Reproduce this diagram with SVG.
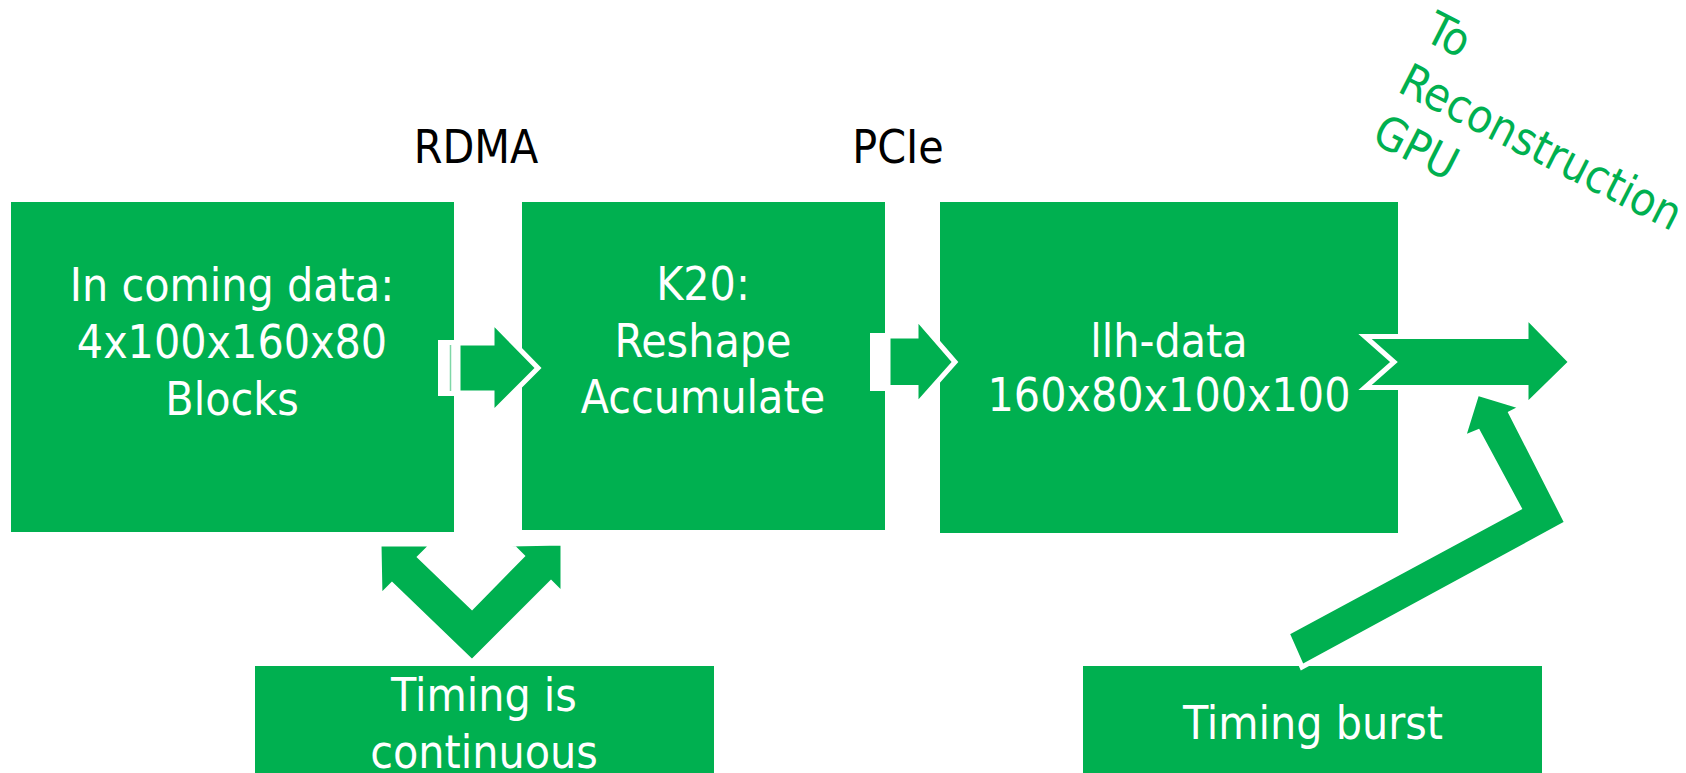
<svg xmlns="http://www.w3.org/2000/svg" width="1686" height="773" viewBox="0 0 1686 773">
  <style>
    .box { fill: #00B050; }
    .arr { fill: #00B050; stroke: #FFFFFF; stroke-width: 5; stroke-linejoin: miter; stroke-miterlimit: 10; }
    .t { font-family: "DejaVu Sans Condensed", "DejaVu Sans", "Liberation Sans", sans-serif; font-stretch: condensed; font-size: 46px; text-anchor: middle; }
    .w { fill: #FFFFFF; }
    .k { fill: #000000; }
    .g { fill: #00B050; text-anchor: start; }
  </style>
  <rect x="0" y="0" width="1686" height="773" fill="#FFFFFF"/>

  <g id="node-incoming">
    <rect class="box" x="11" y="202" width="443" height="330"/>
    <text class="t w" x="232" y="301">In coming data:</text>
    <text class="t w" x="232" y="358">4x100x160x80</text>
    <text class="t w" x="232" y="415">Blocks</text>
  </g>

  <g id="node-k20">
    <rect class="box" x="522" y="202" width="363" height="328"/>
    <text class="t w" x="703" y="300">K20:</text>
    <text class="t w" x="703" y="357">Reshape</text>
    <text class="t w" x="703" y="413">Accumulate</text>
  </g>

  <g id="node-llh">
    <rect class="box" x="940" y="202" width="458" height="331"/>
    <text class="t w" x="1169" y="357">llh-data</text>
    <text class="t w" x="1169" y="411">160x80x100x100</text>
  </g>

  <g id="node-timing-continuous">
    <rect class="box" x="255" y="666" width="459" height="107"/>
    <text class="t w" x="484" y="711">Timing is</text>
    <text class="t w" x="484" y="768">continuous</text>
  </g>

  <g id="node-timing-burst">
    <rect class="box" x="1083" y="666" width="459" height="107"/>
    <text class="t w" x="1313" y="739">Timing burst</text>
  </g>

  <g id="label-rdma">
    <text class="t k" x="476" y="163">RDMA</text>
  </g>
  <g id="label-pcie">
    <text class="t k" x="898" y="163">PCIe</text>
  </g>
  <g id="label-reconstruction">
    <g transform="translate(1396,91) rotate(27)">
      <text class="t g" x="0" y="-58">To</text>
      <text class="t g" x="0" y="0">Reconstruction</text>
      <text class="t g" x="0" y="57">GPU</text>
    </g>
  </g>

  <g id="connectors">
    <!-- RDMA striped arrow -->
    <rect x="438" y="340" width="20" height="56" fill="#FFFFFF"/>
    <line x1="450.5" y1="345" x2="450.5" y2="391" stroke="#7FD7A7" stroke-width="1.5"/>
    <polygon class="arr" points="458,343 492,343 492,321 538,368 492,414 492,393 458,393"/>
    <!-- PCIe striped arrow -->
    <rect x="870" y="333" width="18" height="58" fill="#FFFFFF"/>
    <polygon class="arr" points="888,336 916,336 916,317 955,362 916,406 916,387.5 888,387.5"/>
    <!-- notched arrow to reconstruction GPU -->
    <polygon class="arr" points="1365,336.5 1526,336.5 1526,316 1571,362 1526,406 1526,387.5 1365,387.5 1394,362"/>
    <!-- bent arrow from Timing burst -->
    <polygon class="arr" points="1287,633 1519,508 1478,432 1463,438 1477,393 1523,407 1511,413 1567,523 1302,667"/>
    <!-- V-shaped double arrow from Timing is continuous -->
    <polygon class="arr" points="472,662 392,585 380,597 379,544 433,544 420,557 472,607 522,556 510,544 563,543 563,595 551,583"/>
  </g>
</svg>
